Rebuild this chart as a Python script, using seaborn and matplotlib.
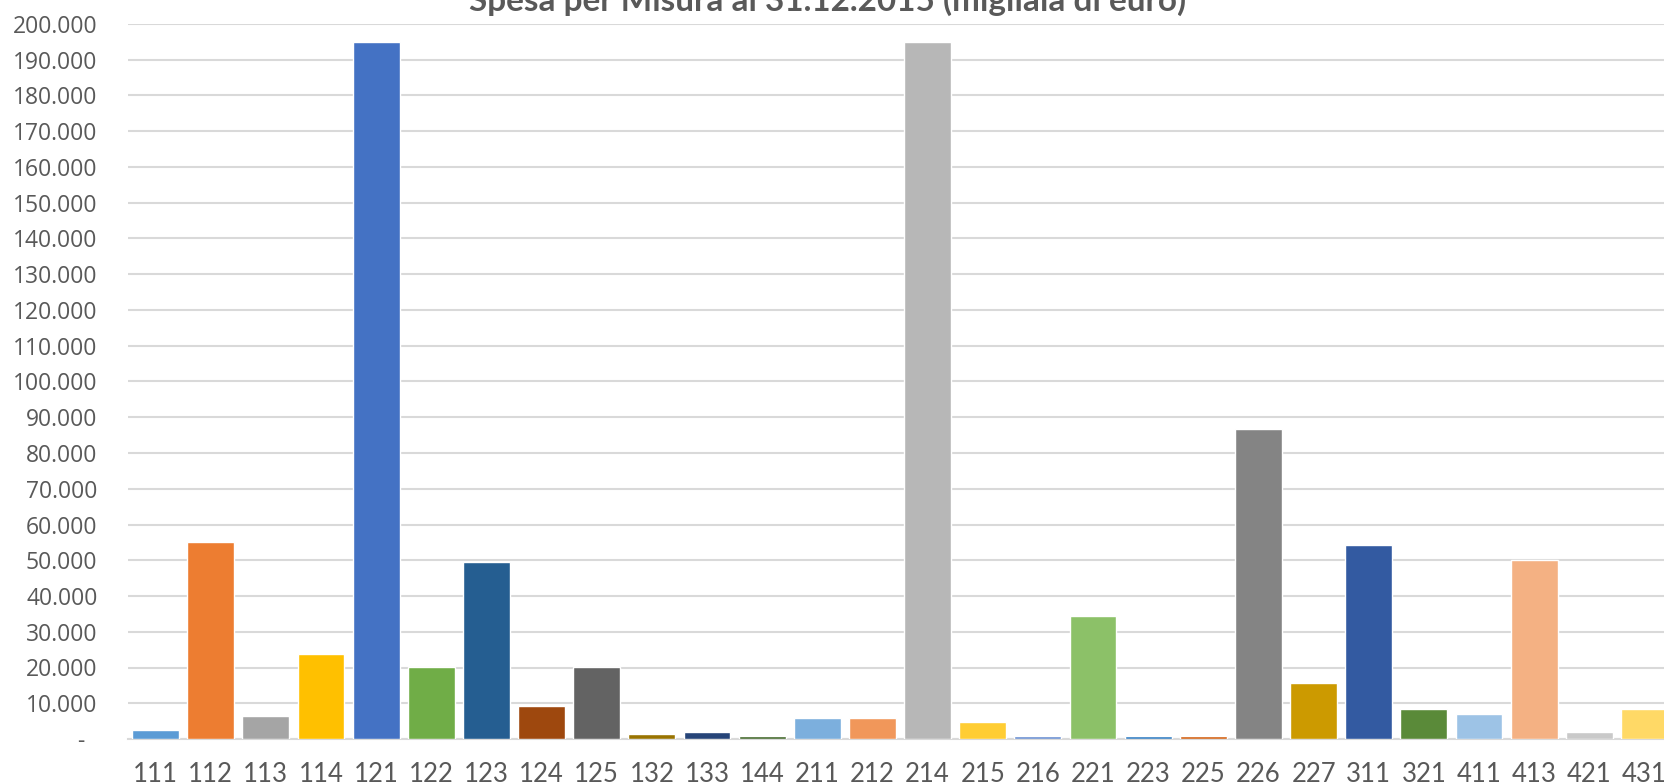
import matplotlib
matplotlib.use("Agg")
import matplotlib.pyplot as plt
import seaborn as sns
import pandas as pd
from matplotlib.ticker import FuncFormatter, MultipleLocator

# Spesa per misura (euro x 1000)
misure = ["111", "112", "113", "114", "121", "122", "123", "124", "125", "132",
          "133", "144", "211", "212", "214", "215", "216", "221", "223", "225",
          "226", "227", "311", "321", "411", "413", "421", "431"]
spesa = [2500, 55000, 6400, 23700, 195000, 20200, 49500, 9200, 20200, 1300,
         1900, 900, 6000, 6000, 195000, 4700, 900, 34400, 900, 900,
         86600, 15700, 54300, 8300, 7100, 50000, 2000, 8300]
colori = ["#5B9BD5", "#ED7D31", "#A5A5A5", "#FFC000", "#4472C4", "#70AD47",
          "#255E91", "#9E480E", "#636363", "#997300", "#264478", "#43682B",
          "#7CAFDD", "#F1975A", "#B7B7B7", "#FFCD33", "#698ED0", "#8CC168",
          "#327DC2", "#D26012", "#848484", "#CC9A00", "#335AA1", "#5A8A39",
          "#9DC3E6", "#F4B183", "#C9C9C9", "#FFD966"]
titolo = "Spesa per Misura al 31.12.2015 (migliaia di euro)"

sns.set_theme(style="white")
plt.rcParams["font.family"] = ["Open Sans", "DejaVu Sans"]

W, H = 1665, 784
fig = plt.figure(figsize=(W / 100, H / 100), dpi=100)
ax = fig.add_axes([128 / W, 45 / H, 1544 / W, 715 / H])

df = pd.DataFrame({"misura": misure, "spesa": spesa})
sns.barplot(data=df, x="misura", y="spesa", hue="misura", palette=colori,
            legend=False, width=0.85, saturation=1, ax=ax, zorder=2)

ax.set_xlim(-0.5, len(misure) - 0.5)
ax.set_ylim(0, 200000)
ax.yaxis.set_major_locator(MultipleLocator(10000))


def formato_it(v, pos):
    if abs(v) < 1e-9:
        return "-  "
    return f"{v:,.0f}".replace(",", ".")


ax.yaxis.set_major_formatter(FuncFormatter(formato_it))
ax.grid(axis="y", color="#D9D9D9", linewidth=1.5)
ax.grid(axis="x", visible=False)
ax.set_axisbelow(True)
for s in ["top", "right", "left"]:
    ax.spines[s].set_visible(False)
ax.spines["bottom"].set_color("#D9D9D9")
ax.spines["bottom"].set_linewidth(1.5)
ax.spines["bottom"].set_zorder(1.5)

ax.set_xlabel("")
ax.set_ylabel("")
ax.tick_params(axis="y", length=0, pad=22, labelsize=16.5, labelcolor="#595959")
ax.tick_params(axis="x", length=0, pad=16.5, labelsize=18.5, labelcolor="#595959")
ax.set_xticks(range(len(misure)), labels=misure, family=["Lato", "DejaVu Sans"])

t = fig.text(828 / W, 1 - 11 / H, titolo, ha="center", va="baseline",
             fontweight="bold", family=["Lato", "DejaVu Sans"],
             color="#595959", fontsize=20)
r = fig.canvas.get_renderer()
w = t.get_window_extent(renderer=r).width
t.set_fontsize(20 * 717 / w)

fig.savefig("out.png", dpi=100)
